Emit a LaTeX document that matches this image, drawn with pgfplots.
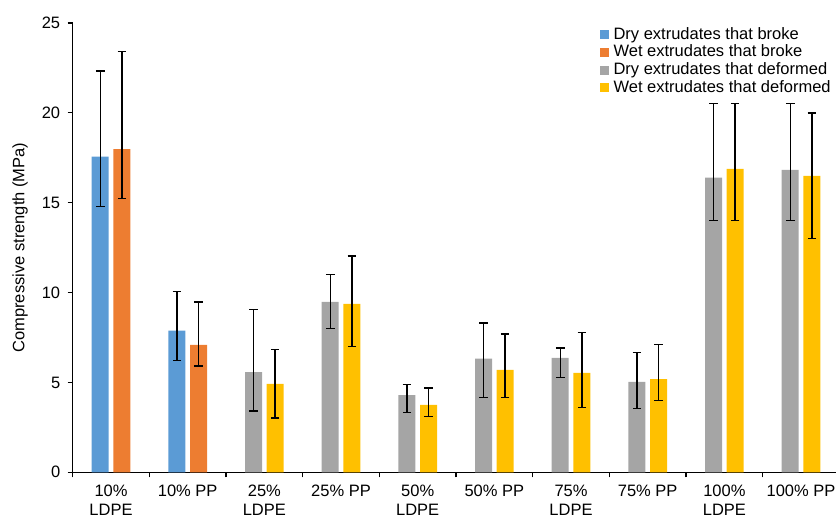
\documentclass[border=0pt]{standalone}
\usepackage{pgfplots}
\pgfplotsset{compat=1.18}
\usepackage{fontspec}
\setmainfont{Liberation Sans}
\definecolor{cblue}{HTML}{5B9BD5}
\definecolor{corange}{HTML}{ED7D31}
\definecolor{cgray}{HTML}{A5A5A5}
\definecolor{cyellow}{HTML}{FFC000}
\newcommand{\cf}{\fontsize{16.5bp}{19bp}\selectfont}
\begin{document}
\begin{tikzpicture}
\useasboundingbox (-72.7bp,-45.7bp) rectangle (763.3bp,472.3bp);
\begin{axis}[
  at={(0,0)}, anchor=south west,
  scale only axis,
  width=763.3bp, height=449.3bp,
  xmin=-0.5, xmax=9.456,
  ymin=0, ymax=25,
  ybar, bar width=17bp,
  axis x line*=bottom, axis y line*=left,
  axis line style={line width=1.3bp, black, -},
  tick style={line width=1.1bp, black},
  tick align=outside,
  ytick={0,5,10,15,20,25},
  xtick={0,...,9},
  major x tick style={draw=none},
  minor xtick={-0.5,0.5,...,8.5},
  minor tick length=5bp,
  major tick length=5bp,
  xticklabels={{10\%\\LDPE},{10\% PP},{25\%\\LDPE},{25\% PP},{50\%\\LDPE},{50\% PP},{75\%\\LDPE},{75\% PP},{100\%\\LDPE},{100\% PP}},
  xticklabel style={align=center, font=\cf, anchor=north, yshift=-4bp},
  yticklabel style={font=\cf, xshift=-4bp},
  /pgf/number format/assume math mode=true,
  ylabel={Compressive strength (MPa)},
  every axis y label/.style={at={(axis description cs:-0.069,0.5)}, rotate=90, anchor=center, font=\cf},
  legend style={at={(0.690,0.994)}, anchor=north west, draw=none, fill=none, font=\cf,
    inner sep=0pt, row sep=0bp,
    nodes={inner sep=1bp, text height=12.3bp, text depth=3.4bp},
    /tikz/every odd column/.append style={column sep=3.5bp}},
  legend cell align=left,
  legend image code/.code={\fill[#1] (0bp,-4.5bp) rectangle (9.5bp,4.5bp);},
  error bars/y dir=both,
  error bars/y explicit,
  error bars/error bar style={line width=1.4bp, black},
  error bars/error mark options={line width=1.4bp, black, mark size=4.3bp, rotate=90},
  clip=false,
]
\addplot[fill=cblue, draw=none, bar shift=-10.8bp] table[x=x, y=y, y error plus=ep, y error minus=em] {
x y ep em
0 17.56 4.78 2.77
1 7.88 2.18 1.67
};
\addlegendentry{Dry extrudates that broke}
\addplot[fill=corange, draw=none, bar shift=10.8bp] table[x=x, y=y, y error plus=ep, y error minus=em] {
x y ep em
0 17.98 5.44 2.76
1 7.09 2.39 1.17
};
\addlegendentry{Wet extrudates that broke}
\addplot[fill=cgray, draw=none, bar shift=-10.8bp] table[x=x, y=y, y error plus=ep, y error minus=em] {
x y ep em
2 5.58 3.49 2.18
3 9.48 1.52 1.48
4 4.30 0.58 0.98
5 6.33 1.97 2.18
6 6.36 0.56 1.09
7 5.03 1.63 1.49
8 16.39 4.12 2.38
9 16.83 3.68 2.82
};
\addlegendentry{Dry extrudates that deformed}
\addplot[fill=cyellow, draw=none, bar shift=10.8bp] table[x=x, y=y, y error plus=ep, y error minus=em] {
x y ep em
2 4.92 1.91 1.90
3 9.37 2.66 2.38
4 3.75 0.93 0.63
5 5.70 2.00 1.55
6 5.53 2.24 1.93
7 5.19 1.91 1.20
8 16.89 3.62 2.88
9 16.50 3.50 3.50
};
\addlegendentry{Wet extrudates that deformed}
\end{axis}
\end{tikzpicture}
\end{document}
